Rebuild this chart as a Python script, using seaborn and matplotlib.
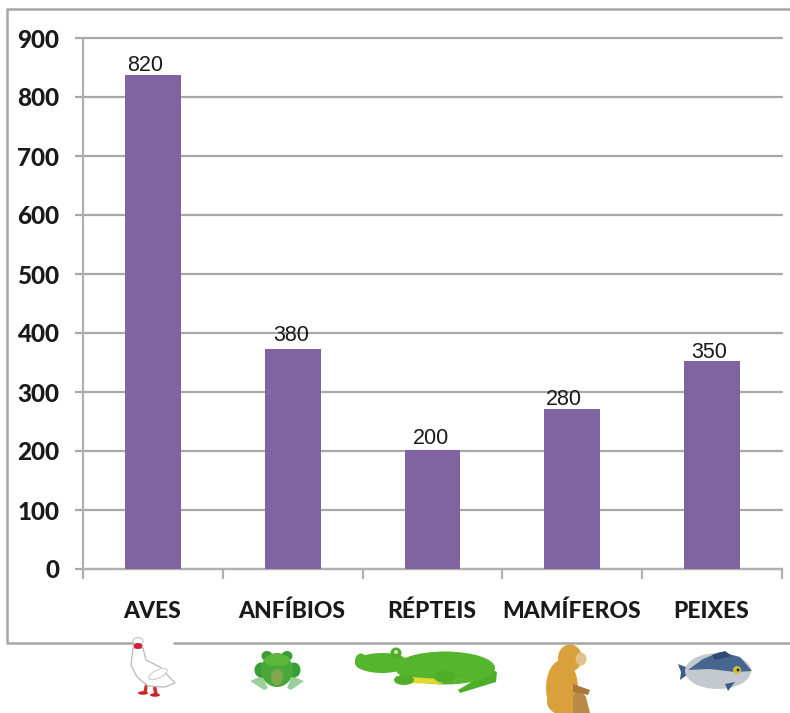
import matplotlib
matplotlib.use("Agg")
import matplotlib.pyplot as plt
from matplotlib.lines import Line2D
from matplotlib.patches import Ellipse, Polygon
from matplotlib.transforms import Affine2D
import pandas as pd
import seaborn as sns

categories = ["AVES", "ANFÍBIOS", "RÉPTEIS", "MAMÍFEROS", "PEIXES"]
bar_values = [838, 373, 202, 272, 353]
bar_labels = ["820", "380", "200", "280", "350"]
y_ticks = [0, 100, 200, 300, 400, 500, 600, 700, 800, 900]

# pixel nudges of the value labels, they are not centred in the original
label_dx = [-8, -2, -2, -8, -3]
label_dy = [0, 4, 2, 0, -1]

W, H = 790, 713
sns.set_theme(style="white")
plt.rcParams["font.family"] = ["Lato", "DejaVu Sans"]

fig = plt.figure(figsize=(W / 100, H / 100), dpi=100)
ax = fig.add_axes([83 / W, 1 - 569 / H, (782 - 83) / W, (569 - 38) / H])

df = pd.DataFrame({"grupo": categories, "valor": bar_values})
sns.barplot(data=df, x="grupo", y="valor", color="#8064A2", saturation=1, width=0.4,
            linewidth=0, ax=ax, zorder=3)

ax.set_xlim(-0.5, 4.5)
ax.set_ylim(0, 900)
ax.set_xlabel("")
ax.set_ylabel("")
ax.set_yticks(y_ticks)
ax.yaxis.grid(True, color="#a8a8a8", lw=1.6, zorder=0, clip_on=False)
ax.set_axisbelow(True)
sns.despine(ax=ax, top=True, right=True)
for side in ["left", "bottom"]:
    ax.spines[side].set_color("#b0b0b0")
    ax.spines[side].set_linewidth(1.6)

# ticks sit between the categories, labels stay centred
ax.set_xticks([-0.5, 0.5, 1.5, 2.5, 3.5, 4.5])
ax.set_xticklabels([])
ax.tick_params(axis="x", length=7, width=1.6, color="#b0b0b0", bottom=True)
ax.tick_params(axis="y", length=6, width=1.6, color="#a8a8a8", left=True, pad=11,
               labelsize=17.5, labelcolor="#1a1a1a")
for lab in ax.get_yticklabels():
    lab.set_fontweight("black")

for i, name in enumerate(categories):
    ax.annotate(name, (i, 0), xytext=(-1, -42), textcoords="offset pixels", ha="center", va="center",
                fontsize=16.5, fontweight="black", color="#1a1a1a", annotation_clip=False)
    ax.annotate(bar_labels[i], (i, bar_values[i]), xytext=(label_dx[i], -1 + label_dy[i]),
                textcoords="offset pixels", ha="center", va="bottom", fontsize=15.5, color="#1a1a1a",
                family=["Liberation Sans"], zorder=5)

# outer frame of the pasted chart, open on the right
px = Affine2D().scale(1, -1).translate(0, H)
frame = dict(color="#a6a6a6", lw=1.8, transform=px)
fig.add_artist(Line2D([790, 7, 7, 133], [9, 9, 643, 643], **frame))
fig.add_artist(Line2D([174, 790], [643, 643], **frame))


def poly(points, color, edge="none", lw=0, z=5):
    fig.add_artist(Polygon(points, closed=True, facecolor=color, edgecolor=edge, lw=lw, transform=px, zorder=z))


def oval(x, y, w, h, color, angle=0, edge="none", lw=0, z=5):
    fig.add_artist(Ellipse((x, y), w, h, angle=-angle, facecolor=color, edgecolor=edge, lw=lw, transform=px, zorder=z))


# goose
poly([(143, 693), (146, 680), (148, 680), (147, 693)], "#cc3333")
poly([(154, 695), (152, 680), (155, 680), (158, 695)], "#cc3333")
oval(143, 693, 10, 3.5, "#cc2222")
oval(155, 695, 10, 3.5, "#cc2222")
poly([(133, 648), (143, 648), (146, 660), (160, 667), (175, 683), (165, 687), (148, 686),
      (137, 677), (131, 665)], "white", "#bdbdbd", 1)
oval(138, 641, 10, 7, "white", edge="#cccccc", lw=1)
oval(138, 646, 9, 6, "#cc2233")
oval(158, 674, 20, 8, "white", angle=25, edge="#cccccc", lw=0.8)

# frog
poly([(250, 681), (262, 676), (268, 688), (264, 690)], "#9ccf9c")
poly([(304, 681), (292, 676), (287, 688), (291, 690)], "#9ccf9c")
oval(261, 670, 13, 15, "#35a035")
oval(294, 670, 13, 15, "#35a035")
oval(277, 670, 32, 34, "#4aa83a")
oval(267, 656, 11, 10, "#3c9c35")
oval(287, 656, 11, 10, "#3c9c35")
oval(277, 660, 26, 12, "#5cb83c")
oval(277, 677, 12, 16, "#7fa84a")

# crocodile
poly([(480, 664), (497, 672), (496, 682), (460, 693), (458, 690), (478, 678)], "#4fae28")
oval(445, 668, 100, 33, "#55b52c")
oval(382, 663, 54, 20, "#55b52c")
oval(361, 661, 12, 15, "#55b52c")
oval(396, 653, 11, 11, "#4fae28")
oval(396, 652, 4, 4, "#d8e0d0")
poly([(395, 676), (455, 680), (468, 677), (440, 684), (405, 683)], "#e3d832")
oval(445, 677, 22, 12, "#4fae28")
oval(404, 680, 20, 10, "#4fae28")

# monkey
oval(562, 688, 32, 56, "#d9a03c")
oval(564, 702, 34, 26, "#d9a03c")
oval(570, 658, 24, 27, "#d9a03c")
oval(581, 659, 11, 13, "#e2c08c")
poly([(573, 695), (580, 690), (586, 697), (590, 713), (573, 713)], "#b98a45")
poly([(573, 684), (590, 690), (588, 695), (573, 692)], "#a8793a")

# fish
poly([(678, 664), (694, 670), (680, 680), (681, 672)], "#3f5f86")
oval(718, 671, 66, 36, "#c3c9cf")
poly([(688, 670), (703, 659), (720, 652), (740, 657), (752, 671), (735, 672), (710, 669)], "#46668f")
poly([(712, 655), (725, 651), (732, 656), (715, 660)], "#2f4a6e")
poly([(725, 684), (735, 682), (728, 691)], "#3f5f86")
oval(737, 670, 8, 8, "#d8bf30")
oval(738, 670, 3, 3, "#223344")

plt.savefig("out.png", dpi=100)
